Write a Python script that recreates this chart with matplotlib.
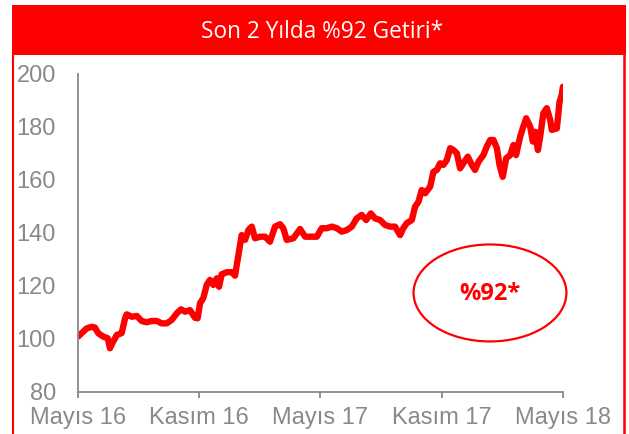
import matplotlib
matplotlib.use('Agg')
import matplotlib.pyplot as plt
from matplotlib.patches import Rectangle, Ellipse
from matplotlib.lines import Line2D

# months since Mayis 2016
months = [0.0, 0.18, 0.43, 0.68, 0.84, 1.00, 1.25, 1.47, 1.58, 1.70,
          1.92, 2.16, 2.33, 2.41, 2.66, 2.91, 3.15, 3.40, 3.65, 3.90,
          4.14, 4.39, 4.64, 4.89, 5.10, 5.30, 5.54, 5.79, 5.92, 6.04,
          6.20, 6.37, 6.53, 6.70, 6.87, 6.98, 7.11, 7.36, 7.61, 7.77,
          7.94, 8.10, 8.27, 8.43, 8.60, 8.76, 9.01, 9.26, 9.50, 9.75,
          10.00, 10.16, 10.33, 10.66, 10.99, 11.24, 11.57, 11.82, 12.06, 12.31,
          12.56, 12.81, 13.05, 13.30, 13.55, 13.79, 14.04, 14.26, 14.49, 14.70,
          14.95, 15.20, 15.45, 15.69, 15.94, 16.10, 16.27, 16.52, 16.68, 16.85,
          17.01, 17.18, 17.43, 17.59, 17.76, 17.92, 18.08, 18.25, 18.42, 18.58,
          18.75, 18.91, 19.07, 19.29, 19.49, 19.65, 19.82, 20.06, 20.23, 20.40,
          20.56, 20.73, 20.86, 21.02, 21.19, 21.39, 21.55, 21.68, 21.88, 22.01,
          22.18, 22.38, 22.51, 22.62, 22.76, 22.87, 23.03, 23.20, 23.37, 23.45,
          23.70, 23.83, 23.94, 24.0]
values = [100.9, 102.2, 104.0, 104.6, 104.3, 102.2, 100.9, 100.3, 96.5, 98.4,
          101.5, 102.2, 107.8, 109.3, 108.4, 108.7, 106.8, 106.3, 106.8, 106.8,
          105.9, 105.9, 107.2, 109.7, 111.2, 110.3, 110.9, 108.0, 107.8, 113.5,
          115.4, 120.4, 122.3, 120.4, 122.9, 119.7, 124.4, 125.2, 125.2, 123.9,
          131.7, 139.2, 137.4, 141.1, 142.4, 138.0, 138.6, 138.6, 136.7, 142.4,
          143.3, 141.8, 137.4, 138.0, 141.5, 138.6, 138.6, 138.6, 141.8, 141.8,
          142.4, 141.8, 140.5, 141.1, 142.4, 145.5, 146.8, 144.9, 147.4, 145.5,
          144.9, 143.0, 142.4, 142.4, 139.2, 141.8, 143.7, 144.9, 149.9, 151.8,
          156.2, 155.0, 157.5, 163.1, 163.8, 166.3, 165.7, 167.5, 172.0, 171.3,
          170.1, 164.4, 166.3, 168.8, 165.7, 163.8, 166.9, 169.4, 172.6, 175.1,
          175.1, 172.0, 165.7, 161.2, 168.2, 169.4, 173.2, 169.4, 176.3, 179.5,
          183.3, 180.1, 174.5, 178.2, 171.3, 176.3, 185.2, 187.1, 182.6, 178.9,
          179.5, 189.5, 192.1, 195.2]

tick_pos = [0, 6, 12, 18, 24]
tick_labels = ['Mayıs 16', 'Kasım 16', 'Mayıs 17', 'Kasım 17', 'Mayıs 18']
y_ticks = [80, 100, 120, 140, 160, 180, 200]

red = '#FF0000'
gray = '#898989'

fig = plt.figure(figsize=(6.29, 4.34), dpi=100)
fig.patch.set_facecolor('white')

ax = fig.add_axes([0.124, 0.0968, 0.771, 0.7327])
ax.plot(months, values, color=red, lw=4.6, solid_joinstyle='round', solid_capstyle='round')
ax.set_xlim(0, 24)
ax.set_ylim(80, 200)
ax.set_xticks(tick_pos)
ax.set_xticklabels(tick_labels)
ax.set_yticks(y_ticks)
for s in ['top', 'right']:
    ax.spines[s].set_visible(False)
for s in ['left', 'bottom']:
    ax.spines[s].set_color(gray)
    ax.spines[s].set_linewidth(1.3)
ax.tick_params(axis='y', length=0, pad=16, labelsize=17, labelcolor=gray)
ax.tick_params(axis='x', length=4.5, width=1.3, color=gray, pad=6, labelsize=17, labelcolor=gray)
for lab in ax.get_xticklabels() + ax.get_yticklabels():
    lab.set_family('Liberation Sans')

# title bar and frame
fig.patches.append(Rectangle((0.019, 0.8733), 0.976, 0.1152, transform=fig.transFigure,
                             facecolor=red, edgecolor='none', zorder=5))
fig.lines.append(Line2D([0.0199, 0.0199], [0, 0.88], transform=fig.transFigure, color=red, lw=1.5))
fig.lines.append(Line2D([0.9925, 0.9925], [0, 0.88], transform=fig.transFigure, color=red, lw=1.8))
fig.text(0.512, 0.927, 'Son 2 Yılda %92 Getiri*', color='white', fontsize=16.3,
         family='Open Sans', ha='center', va='center', zorder=6)

# ellipse callout
fig.patches.append(Ellipse((0.779, 0.325), 0.243, 0.2235, transform=fig.transFigure,
                           facecolor='none', edgecolor=red, lw=1.6))
fig.text(0.779, 0.322, '%92*', color=red, fontsize=17, fontweight='bold',
         family='Open Sans', ha='center', va='center')

plt.savefig('out.png', dpi=100)
